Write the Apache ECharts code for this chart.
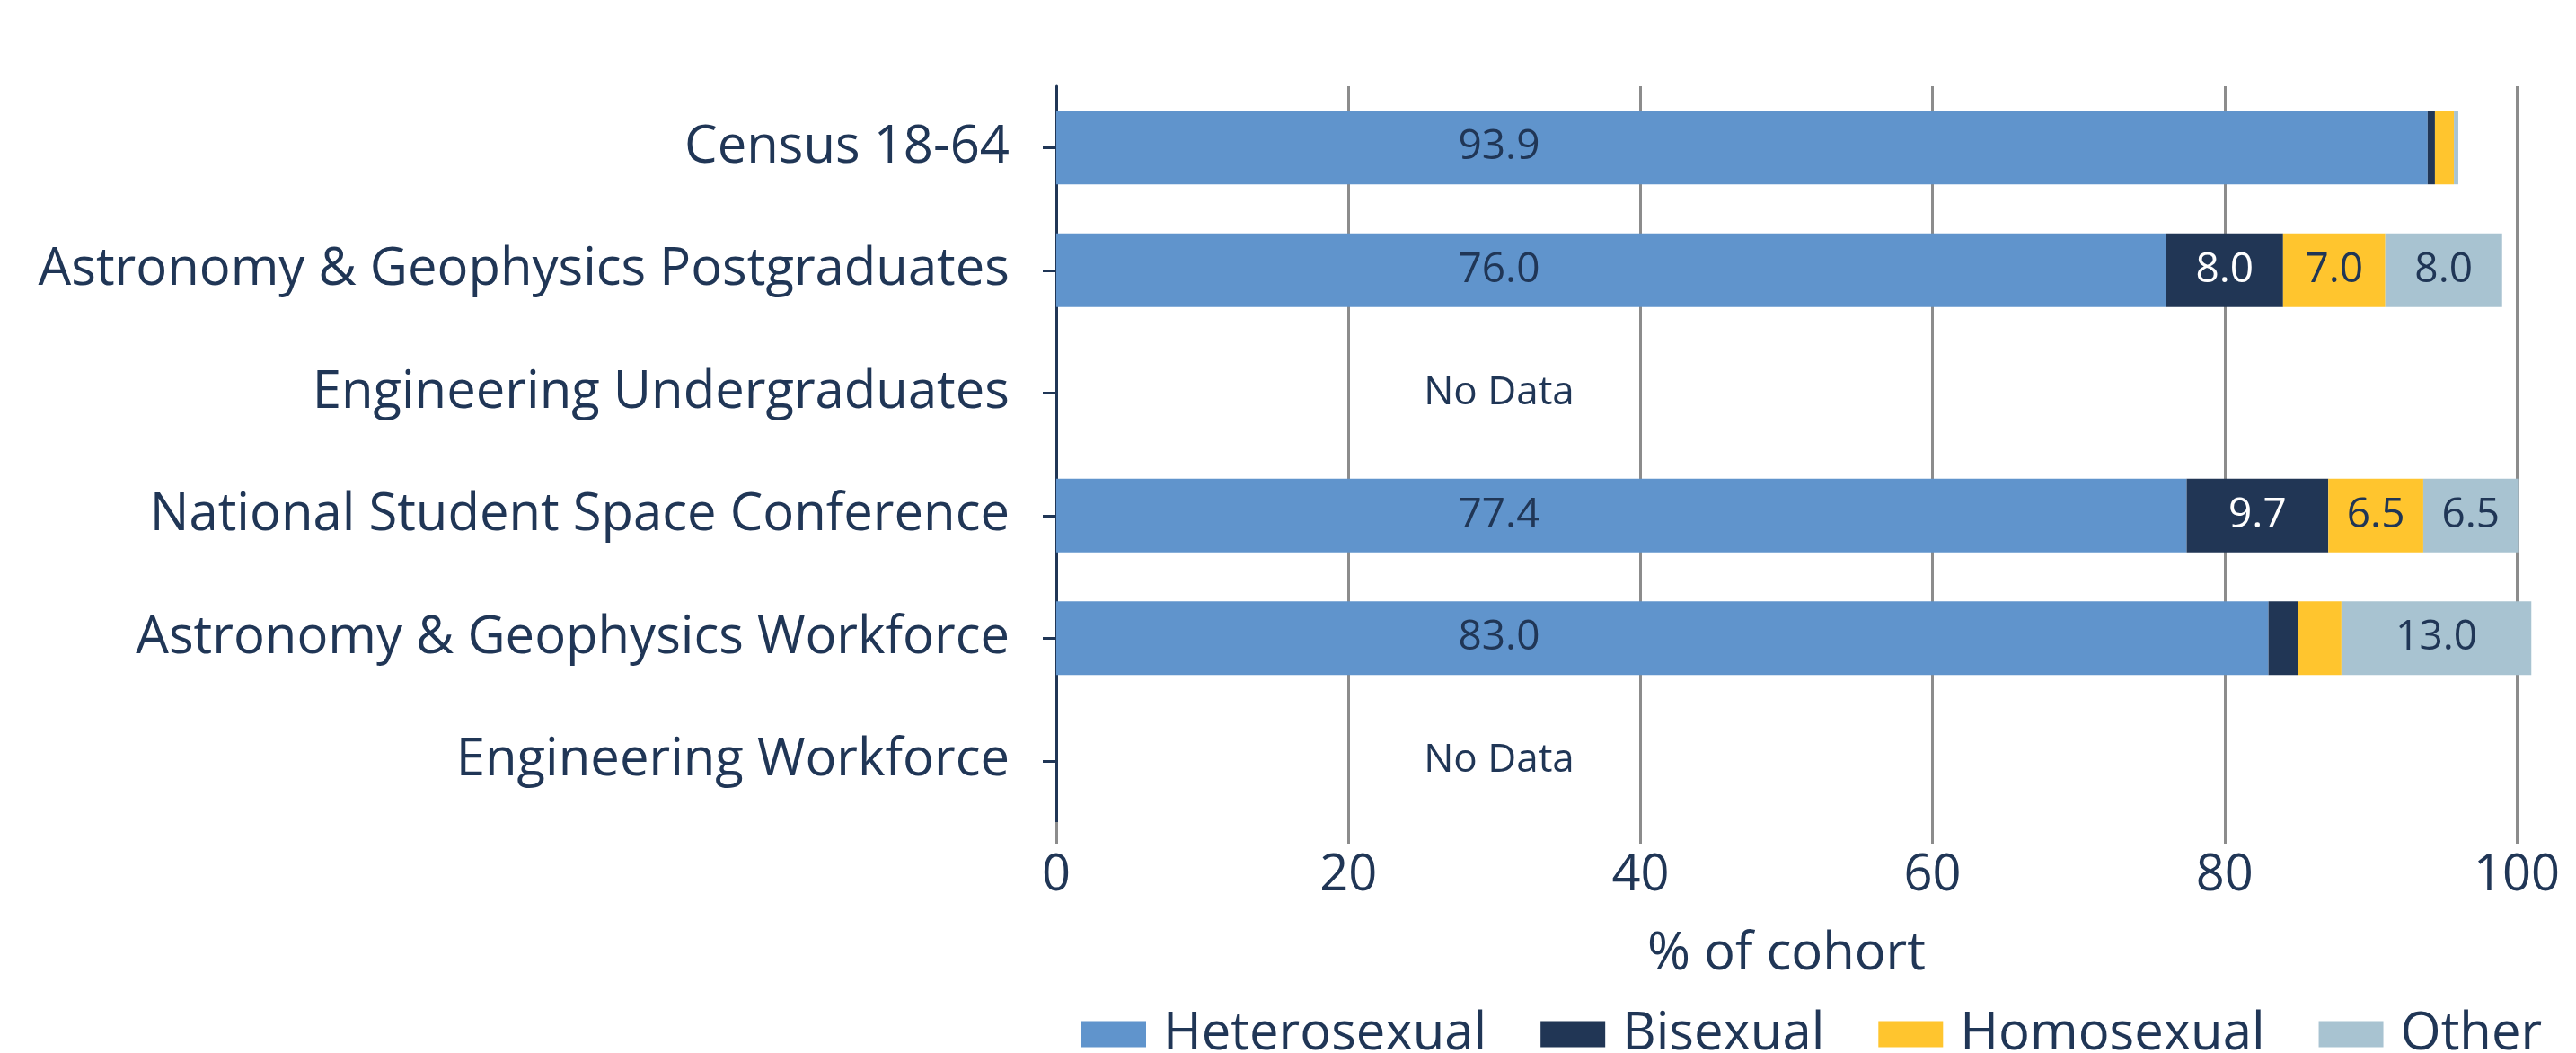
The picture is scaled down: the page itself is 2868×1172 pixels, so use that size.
<!DOCTYPE html>
<html>

<head>
    <title>Sexual orientation by cohort</title>
    <meta charset="utf-8">
    <script src="https://cdn.jsdelivr.net/npm/echarts@6/dist/echarts.min.js"></script>
    <style>
        html, body { margin: 0; padding: 0; background: #fff; }
    </style>
</head>

<body>
    <!-- chart container, same size as the window -->
    <div id="main" style="width: 2868px;height:1172px;"></div>

    <script type="text/javascript">
        // categories, top to bottom
        var categories = [
            'Census 18-64',
            'Astronomy & Geophysics Postgraduates',
            'Engineering Undergraduates',
            'National Student Space Conference',
            'Astronomy & Geophysics Workforce',
            'Engineering Workforce'
        ];

        // % of cohort per group, null = no data
        var heterosexual = [93.9, 76.0, null, 77.4, 83.0, null];
        var bisexual = [0.5, 8.0, null, 9.7, 2.0, null];
        var homosexual = [1.3, 7.0, null, 6.5, 3.0, null];
        var other = [0.3, 8.0, null, 6.5, 13.0, null];

        var xTicks = [0, 20, 40, 60, 80, 100];

        var navy = '#203656';
        var fontName = 'Open Sans';

        var myChart = echarts.init(document.getElementById('main'));

        // only the wider segments carry a value label
        function segLabel(p) {
            return p.value >= 5 ? p.value.toFixed(1) : '';
        }

        // heterosexual values: rows without data get a zero bar with a "No Data" label
        var heteroData = heterosexual.map(function (v) {
            if (v === null) {
                return { value: 0, label: { formatter: 'No Data', fontSize: 44 } };
            }
            return v;
        });

        var option = {
            animation: false,
            textStyle: { fontFamily: fontName, color: navy },
            color: ['#6094cc', '#213655', '#ffc52e', '#a8c3d1'],
            legend: {
                data: ['Heterosexual', 'Bisexual', 'Homosexual', 'Other'],
                left: 1199,
                top: 1117,
                itemWidth: 72,
                itemHeight: 29,
                itemGap: 60,
                icon: 'rect',
                textStyle: { fontSize: 58, color: navy, fontFamily: fontName, padding: [0, 0, 0, 14] }
            },
            grid: {
                left: 1176,
                right: 66,
                top: 96,
                bottom: 257
            },
            xAxis: {
                type: 'value',
                min: 0,
                max: 100,
                interval: 20,
                name: '% of cohort',
                nameLocation: 'middle',
                nameGap: 118,
                nameTextStyle: { fontSize: 58, color: navy, fontFamily: fontName },
                axisLine: { show: false },
                axisTick: { show: true, length: 24, lineStyle: { color: '#8c8c8c', width: 3 } },
                axisLabel: {
                    fontSize: 56,
                    color: navy,
                    margin: 32,
                    formatter: function (v) { return xTicks.indexOf(v) >= 0 ? String(v) : ''; }
                },
                splitLine: { show: true, lineStyle: { color: '#8c8c8c', width: 3 } }
            },
            yAxis: {
                type: 'category',
                data: categories,
                inverse: true,
                axisLine: { show: true, lineStyle: { color: navy, width: 3 } },
                axisTick: { show: true, alignWithLabel: true, length: 15, lineStyle: { color: navy, width: 3 } },
                axisLabel: { fontSize: 58, color: navy, margin: 52 }
            },
            series: [{
                name: 'Heterosexual',
                type: 'bar',
                stack: 'total',
                barWidth: '60%',
                clip: false,
                data: heteroData,
                label: {
                    show: true,
                    position: [493, '50%'],
                    align: 'center',
                    verticalAlign: 'middle',
                    fontSize: 46,
                    color: navy,
                    formatter: function (p) { return p.value.toFixed(1); }
                }
            }, {
                name: 'Bisexual',
                type: 'bar',
                stack: 'total',
                clip: false,
                data: bisexual,
                label: { show: true, position: 'inside', fontSize: 46, color: '#ffffff', formatter: segLabel }
            }, {
                name: 'Homosexual',
                type: 'bar',
                stack: 'total',
                clip: false,
                data: homosexual,
                label: { show: true, position: 'inside', fontSize: 46, color: navy, formatter: segLabel }
            }, {
                name: 'Other',
                type: 'bar',
                stack: 'total',
                clip: false,
                data: other,
                label: { show: true, position: 'inside', fontSize: 46, color: navy, formatter: segLabel }
            }]
        };

        myChart.setOption(option);
    </script>
</body>

</html>
